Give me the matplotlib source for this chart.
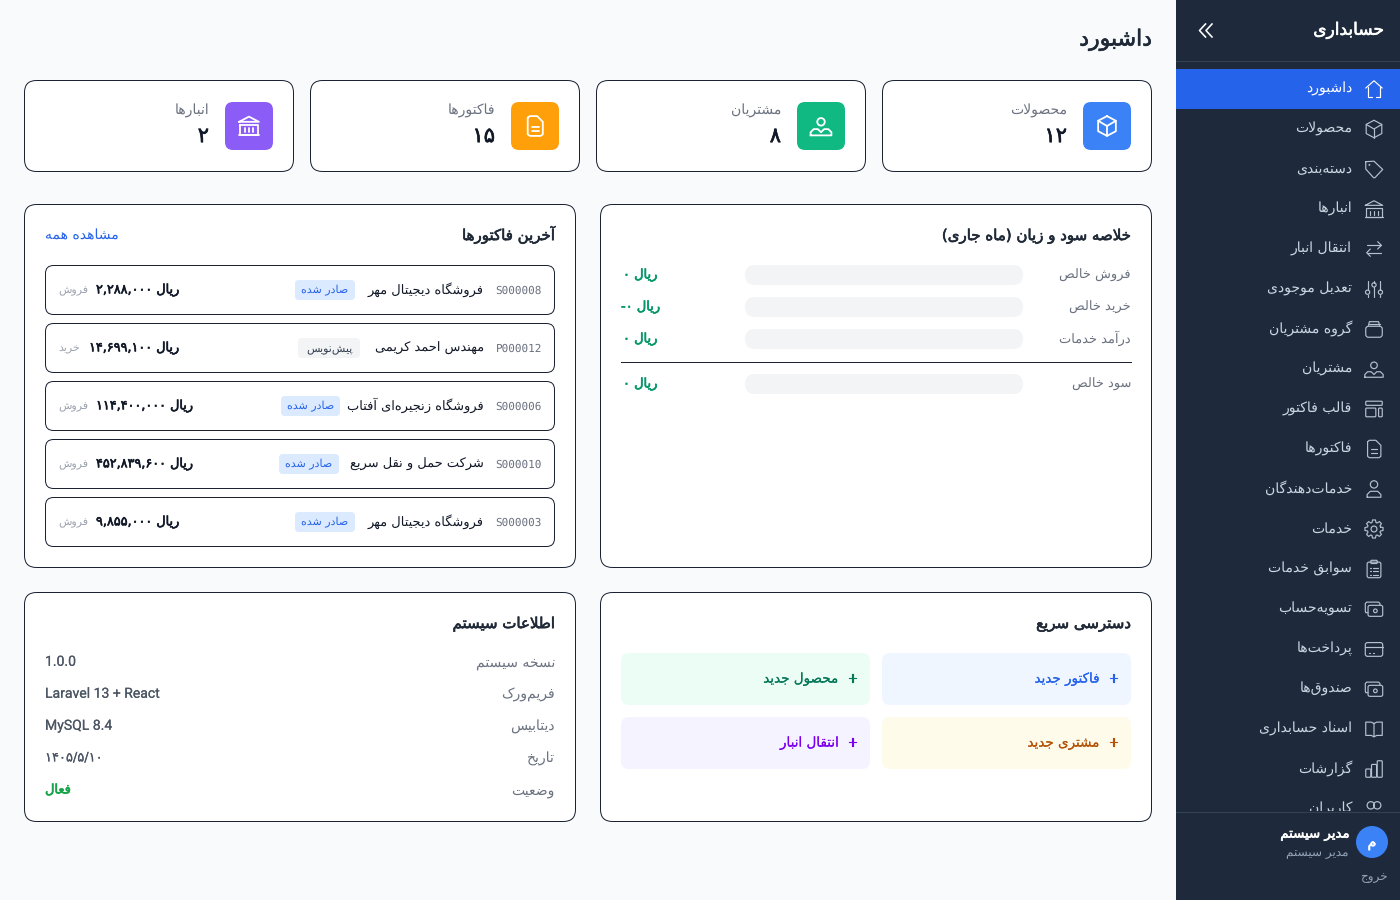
import re
import math
import matplotlib
matplotlib.use("Agg")
import matplotlib.pyplot as plt
import matplotlib.patheffects as pe
from matplotlib.patches import FancyBboxPatch, Rectangle, Circle

# ---------- data ----------
app_title = "حسابداری"
page_title = "داشبورد"
nav_items = ["داشبورد", "محصولات", "دسته‌بندی", "انبارها", "انتقال انبار", "تعدیل موجودی",
             "گروه مشتریان", "مشتریان", "قالب فاکتور", "فاکتورها", "خدمات‌دهندگان", "خدمات",
             "سوابق خدمات", "تسویه‌حساب", "پرداخت‌ها", "صندوق‌ها", "اسناد حسابداری", "گزارشات", "کاربران"]
nav_icons = ["home", "cube", "tag", "bank", "swap", "sliders", "stack", "users", "layout", "doc",
             "person", "gear", "clip", "wallet", "card", "wallet", "book", "bars", "users2"]
stat_labels = ["محصولات", "مشتریان", "فاکتورها", "انبارها"]
stat_values = ["۱۲", "۸", "۱۵", "۲"]
stat_icons = ["cube", "users", "doc", "bank"]
stat_colors = ["#3b82f6", "#10b981", "#ff9f0a", "#8b5cf6"]

pl_title = "خلاصه سود و زیان (ماه جاری)"
pl_labels = ["فروش خالص", "خرید خالص", "درآمد خدمات", "سود خالص"]
pl_values = ["ریال ۰", "ریال -۰", "ریال ۰", "ریال ۰"]

inv_title = "آخرین فاکتورها"
inv_link = "مشاهده همه"
inv_codes = ["S000008", "P000012", "S000006", "S000010", "S000003"]
inv_names = ["فروشگاه دیجیتال مهر", "مهندس احمد کریمی", "فروشگاه زنجیره‌ای آفتاب",
             "شرکت حمل و نقل سریع", "فروشگاه دیجیتال مهر"]
inv_status = ["صادر شده", "پیش‌نویس", "صادر شده", "صادر شده", "صادر شده"]
inv_amounts = ["۲,۲۸۸,۰۰۰", "۱۴,۶۹۹,۱۰۰", "۱۱۴,۴۰۰,۰۰۰", "۴۵۲,۸۳۹,۶۰۰", "۹,۸۵۵,۰۰۰"]
inv_kinds = ["فروش", "خرید", "فروش", "فروش", "فروش"]
currency = "ریال"

quick_title = "دسترسی سریع"
quick_labels = ["فاکتور جدید", "محصول جدید", "مشتری جدید", "انتقال انبار"]
quick_bg = ["#eff6ff", "#ecfdf5", "#fffbeb", "#f5f3ff"]
quick_fg = ["#2563eb", "#047857", "#b45309", "#7c00f0"]

sys_title = "اطلاعات سیستم"
sys_labels = ["نسخه سیستم", "فریم‌ورک", "دیتابیس", "تاریخ", "وضعیت"]
sys_values = ["1.0.0", "Laravel 13 + React", "MySQL 8.4", "۱۴۰۵/۵/۱۰", "فعال"]

user_name = "مدیر سیستم"
user_initial = "م"
logout = "خروج"

# ---------- Persian shaping (logical text -> visual presentation forms) ----------
F = {
    'آ': (0xFE81, 0xFE82), 'ا': (0xFE8D, 0xFE8E), 'د': (0xFEA9, 0xFEAA), 'ذ': (0xFEAB, 0xFEAC),
    'ر': (0xFEAD, 0xFEAE), 'ز': (0xFEAF, 0xFEB0), 'ژ': (0xFB8A, 0xFB8B), 'و': (0xFEED, 0xFEEE),
}
for ch, b in {'ب': 0xFE8F, 'ت': 0xFE95, 'ث': 0xFE99, 'ج': 0xFE9D, 'ح': 0xFEA1, 'خ': 0xFEA5, 'س': 0xFEB1,
              'ش': 0xFEB5, 'ص': 0xFEB9, 'ض': 0xFEBD, 'ط': 0xFEC1, 'ظ': 0xFEC5, 'ع': 0xFEC9, 'غ': 0xFECD,
              'ف': 0xFED1, 'ق': 0xFED5, 'ل': 0xFEDD, 'م': 0xFEE1, 'ن': 0xFEE5, 'ه': 0xFEE9,
              'پ': 0xFB56, 'چ': 0xFB7A, 'ک': 0xFB8E, 'گ': 0xFB92, 'ی': 0xFBFC}.items():
    F[ch] = (b, b + 1, b + 2, b + 3)


def shape(s):
    if not any(c in F or '۰' <= c <= '۹' for c in s):
        return s
    out = []
    prev_joins = False
    i = 0
    n = len(s)
    while i < n:
        c = s[i]
        if c not in F:
            if c != '\u200c':
                out.append(c)
            prev_joins = False
            i += 1
            continue
        if c == 'ل' and i + 1 < n and s[i + 1] in 'اآ':
            lig = (0xFEFB, 0xFEFC) if s[i + 1] == 'ا' else (0xFEF5, 0xFEF6)
            out.append(chr(lig[1] if prev_joins else lig[0]))
            prev_joins = False
            i += 2
            continue
        forms = F[c]
        next_ok = i + 1 < n and s[i + 1] in F
        dual = len(forms) == 4
        if dual and prev_joins and next_ok:
            g = forms[3]
        elif dual and next_ok:
            g = forms[2]
        elif prev_joins:
            g = forms[1]
        else:
            g = forms[0]
        out.append(chr(g))
        prev_joins = dual
        i += 1
    vis = ''.join(out)[::-1].translate(str.maketrans('()', ')('))
    return re.sub(r'[0-9۰-۹,./\-]+', lambda m: m.group(0)[::-1], vis)


# ---------- canvas ----------
plt.rcParams['text.hinting'] = 'no_hinting'
plt.rcParams['text.hinting_factor'] = 1
fig = plt.figure(figsize=(14, 9), dpi=100, facecolor="#f8fafc")
ax = fig.add_axes([0, 0, 1, 1])
ax.set_xlim(0, 1400)
ax.set_ylim(900, 0)
ax.axis("off")
HAIR = 0.72


def T(x, y, s, px, color, ha="right", stroke=0.0, z=5, family="DejaVu Sans", weight="normal"):
    t = ax.text(x, y + px * 0.34, shape(s), fontsize=px * 0.72, color=color, ha=ha, va="baseline",
                fontweight=weight, zorder=z, family=family)
    if stroke:
        t.set_path_effects([pe.withStroke(linewidth=stroke, foreground=color)])
    return t


def box(x0, y0, x1, y1, r, fc, ec="none", lw=HAIR, z=2):
    ax.add_patch(FancyBboxPatch((x0, y0), x1 - x0, y1 - y0, boxstyle=f"round,pad=0,rounding_size={r}",
                                fc=fc, ec=ec, lw=lw, zorder=z))


# ---------- icons on a 24-unit grid ----------
def gear_pts():
    pts = []
    for k in range(8):
        a = k * math.pi / 4
        for da, r in ((-0.30, 7.4), (-0.16, 10), (0.16, 10), (0.30, 7.4)):
            pts.append((12 + r * math.cos(a + da), 12 + r * math.sin(a + da)))
    pts.append(pts[0])
    return pts


ICONS = {
    "home": dict(l=[[(3, 11), (12, 3), (21, 11)], [(5.5, 9.5), (5.5, 21), (10, 21)], [(14, 21), (18.5, 21), (18.5, 9.5)]]),
    "cube": dict(l=[[(12, 2.5), (20.5, 7), (20.5, 17), (12, 21.5), (3.5, 17), (3.5, 7), (12, 2.5)],
                    [(3.5, 7), (12, 12), (20.5, 7)], [(12, 12), (12, 21.5)]]),
    "tag": dict(l=[[(3, 4), (12, 3.5), (21.5, 12.5), (13, 21.5), (11.5, 21.5), (3, 12), (3, 4)]], c=[(7, 7.5, .4)]),
    "bank": dict(l=[[(2.5, 8), (12, 3), (21.5, 8), (2.5, 8)], [(3.5, 11), (20.5, 11), (20.5, 21), (3.5, 21), (3.5, 11)],
                    [(8, 14), (8, 18)], [(12, 14), (12, 18)], [(16, 14), (16, 18)], [(2.5, 21), (21.5, 21)]]),
    "swap": dict(l=[[(4, 8), (20, 8)], [(16, 4), (20, 8), (16, 12)], [(20, 16), (4, 16)], [(8, 12), (4, 16), (8, 20)]]),
    "sliders": dict(l=[[(5, 3), (5, 13)], [(5, 18), (5, 21)], [(12, 3), (12, 5)], [(12, 10), (12, 21)],
                       [(19, 3), (19, 13)], [(19, 18), (19, 21)]],
                    c=[(5, 15.5, 2.3), (12, 7.5, 2.3), (19, 15.5, 2.3)]),
    "stack": dict(l=[[(6, 8), (7, 4), (17, 4), (18, 8)], [(6, 6), (18, 6)]], r=[(3, 9, 18, 12, 3)]),
    "users": dict(l=[[(2, 21), (2, 18), (5, 15), (9, 15), (12, 18), (15, 15), (19, 15), (22, 18), (22, 21), (2, 21)]],
                  c=[(12, 8, 3.6)]),
    "users2": dict(c=[(8.5, 8, 4), (15.5, 8, 4)]),
    "layout": dict(r=[(3, 3.5, 18, 4.5, 1), (3, 11, 11, 9.5, 1), (17, 11, 4, 9.5, 1)]),
    "doc": dict(l=[[(5, 4), (7, 2.5), (14, 2.5), (19.5, 8), (19.5, 20), (17.5, 21.5), (7, 21.5), (5, 20), (5, 4)],
                   [(9, 12.5), (15.5, 12.5)], [(9, 16.5), (15.5, 16.5)]]),
    "person": dict(l=[[(4.5, 21), (4.5, 18), (8, 14.5), (16, 14.5), (19.5, 18), (19.5, 21), (4.5, 21)]], c=[(12, 7, 4)]),
    "gear": dict(l=[gear_pts()], c=[(12, 12, 3.2)]),
    "clip": dict(r=[(4.5, 4.5, 15, 17, 2), (8.5, 2.5, 7, 3.5, 1)],
                 l=[[(11, 11), (16, 11)], [(11, 14.5), (16, 14.5)], [(11, 18), (16, 18)], [(8, 11), (8.8, 11)],
                    [(8, 14.5), (8.8, 14.5)], [(8, 18), (8.8, 18)]]),
    "wallet": dict(r=[(5.5, 8, 16, 12, 2)], l=[[(5.5, 16), (3, 16), (2.5, 14), (2.5, 6), (4, 4.5), (17, 4.5), (18.5, 6), (18.5, 8)]],
                   c=[(13.5, 14, 2)]),
    "card": dict(r=[(2.5, 5, 19, 15, 2.5)], l=[[(2.5, 10), (21.5, 10)], [(7, 16), (8, 16)], [(11, 16), (12, 16)]]),
    "book": dict(l=[[(12, 6), (9, 4.5), (3, 4.5), (3, 19), (9, 19), (12, 20.5), (15, 19), (21, 19), (21, 4.5), (15, 4.5), (12, 6), (12, 20.5)]]),
    "bars": dict(r=[(3, 12, 5.5, 9, 1), (9.3, 7, 5.5, 14, 1), (15.5, 3, 5.5, 18, 1)]),
}


def icon(name, cx, cy, size, color, lw=0.85, z=4):
    k = size / 24
    X = lambda v: cx + (v - 12) * k
    Y = lambda v: cy + (v - 12) * k
    d = ICONS[name]
    for pl in d.get("l", []):
        ax.plot([X(p[0]) for p in pl], [Y(p[1]) for p in pl], color=color, lw=lw, zorder=z,
                solid_capstyle="round", solid_joinstyle="round")
    for (a, b, r) in d.get("c", []):
        ax.add_patch(Circle((X(a), Y(b)), r * k, fc="none", ec=color, lw=lw, zorder=z))
    for (a, b, w, h, r) in d.get("r", []):
        ax.add_patch(FancyBboxPatch((X(a), Y(b)), w * k, h * k, boxstyle=f"round,pad=0,rounding_size={r * k}",
                                    fc="none", ec=color, lw=lw, zorder=z))


BORDER = "#1b2333"
INK = "#1f2937"
GRAY = "#6b7280"
FAUX = 0.45

# ---------- sidebar ----------
ax.add_patch(Rectangle((1176, 0), 224, 900, fc="#1e293b", ec="none", zorder=1))
ax.plot([1176, 1400], [60.5, 60.5], color="#334155", lw=HAIR, zorder=2)
T(1384, 29, app_title, 17, "white", stroke=FAUX)
for dx in (0, 6.5):
    ax.plot([1205.5 + dx, 1199.5 + dx, 1205.5 + dx], [24, 30.5, 37], color="white", lw=1.15, zorder=4)
ax.add_patch(Rectangle((1176, 69), 224, 40, fc="#2563eb", ec="none", zorder=2))
for i, (lab, ic) in enumerate(zip(nav_items, nav_icons)):
    y = 88 + 40 * i
    col = "white" if i == 0 else "#cbd5e1"
    T(1352, y, lab, 13.5, col, z=4)
    icon(ic, 1374, y + 1, 22, "white" if i == 0 else "#b6c0ce")

# sidebar footer covers the clipped last item
ax.add_patch(Rectangle((1176, 811), 224, 89, fc="#1e293b", ec="none", zorder=8))
ax.plot([1176, 1400], [811.5, 811.5], color="#334155", lw=HAIR, zorder=9)
ax.add_patch(Circle((1372, 842), 16, fc="#3b82f6", ec="none", zorder=9))
T(1372, 842, user_initial, 14, "white", ha="center", stroke=FAUX, z=10)
T(1348, 833, user_name, 13.3, "white", stroke=FAUX, z=10)
T(1348, 852, user_name, 12, "#94a3b8", z=10)
T(1388, 876, logout, 12, "#94a3b8", z=10)

# ---------- page title ----------
T(1152, 38, page_title, 22, INK, stroke=FAUX)

# ---------- stat cards ----------
for i, (lab, val, ic, col) in enumerate(zip(stat_labels, stat_values, stat_icons, stat_colors)):
    x1 = 1152 - 286 * i
    box(x1 - 269.5, 80.5, x1 - 0.5, 171.5, 12, "white", BORDER)
    box(x1 - 69, 102, x1 - 21, 150, 8, col, z=3)
    icon(ic, x1 - 45, 126, 25, "white", lw=1.3)
    T(x1 - 85, 110, lab, 14, GRAY)
    T(x1 - 85, 135, val, 21, "#111827", stroke=FAUX)

# ---------- profit and loss panel ----------
box(600.5, 204.5, 1151.5, 567.5, 12, "white", BORDER)
T(1131, 235, pl_title, 15, INK, stroke=FAUX)
for lab, val, y in zip(pl_labels, pl_values, [274, 306, 338, 383]):
    T(1131, y, lab, 13.2, GRAY)
    box(745, y - 9, 1023, y + 11, 10, "#f3f4f6", z=3)
    T(621 if "-" in val else 623, y, val, 13, "#059669", ha="left", stroke=FAUX)
ax.plot([621, 1131], [361.5, 361.5], color=BORDER, lw=HAIR, zorder=3)

# ---------- invoices panel ----------
box(24.5, 204.5, 575.5, 567.5, 12, "white", BORDER)
T(555, 235, inv_title, 15, INK, stroke=FAUX)
T(45, 235, inv_link, 14, "#2563eb", ha="left")
badge_x0 = [295, 298, 281, 279, 295]
badge_x1 = [355, 360, 340, 339, 355]
for i in range(5):
    y = 290 + 58 * i
    box(45.5, y - 24.5, 554.5, y + 24.5, 8, "white", BORDER, z=3)
    T(542, y, inv_codes[i], 11, GRAY, family="DejaVu Sans Mono")
    T(484, y - 1, inv_names[i], 13, "#111827")
    draft = inv_status[i] != "صادر شده"
    box(badge_x0[i], y - 10, badge_x1[i], y + 10, 4, "#f3f4f6" if draft else "#dbeafe", z=4)
    T((badge_x0[i] + badge_x1[i]) / 2, y, inv_status[i], 11, "#374151" if draft else "#2563eb", ha="center")
    T(58 + (31 if draft else 38), y - 1, f"{currency} {inv_amounts[i]}", 12.8, "#111827", ha="left", stroke=FAUX)
    T(58, y, inv_kinds[i], 11, "#9ca3af", ha="left")

# ---------- quick access ----------
box(600.5, 592.5, 1151.5, 821.5, 12, "white", BORDER)
T(1131, 623, quick_title, 15, INK, stroke=FAUX)
for i, (lab, bg, fg) in enumerate(zip(quick_labels, quick_bg, quick_fg)):
    x1 = 1131 - 261 * (i % 2)
    y0 = 653 + 64 * (i // 2)
    box(x1 - 249, y0, x1, y0 + 52, 8, bg, z=3)
    T(x1 - 17, y0 + 25, "+", 14, fg, ha="center", stroke=0.1)
    T(x1 - 29, y0 + 25, lab, 13.5, fg, stroke=0.1)

# ---------- system info ----------
box(24.5, 592.5, 575.5, 821.5, 12, "white", BORDER)
T(555, 623, sys_title, 15, INK, stroke=FAUX)
for i, (lab, val) in enumerate(zip(sys_labels, sys_values)):
    y = 662 + 32 * i
    T(555, y, lab, 13.8, GRAY)
    latin = val.isascii()
    active = i == 4
    T(45, y - 1, val, 14 if latin else 13, "#16a34a" if active else "#4b5563", ha="left",
      family="Roboto" if latin else "DejaVu Sans", stroke=FAUX if active else 0.1)

fig.savefig("out.png", dpi=100, facecolor=fig.get_facecolor())
